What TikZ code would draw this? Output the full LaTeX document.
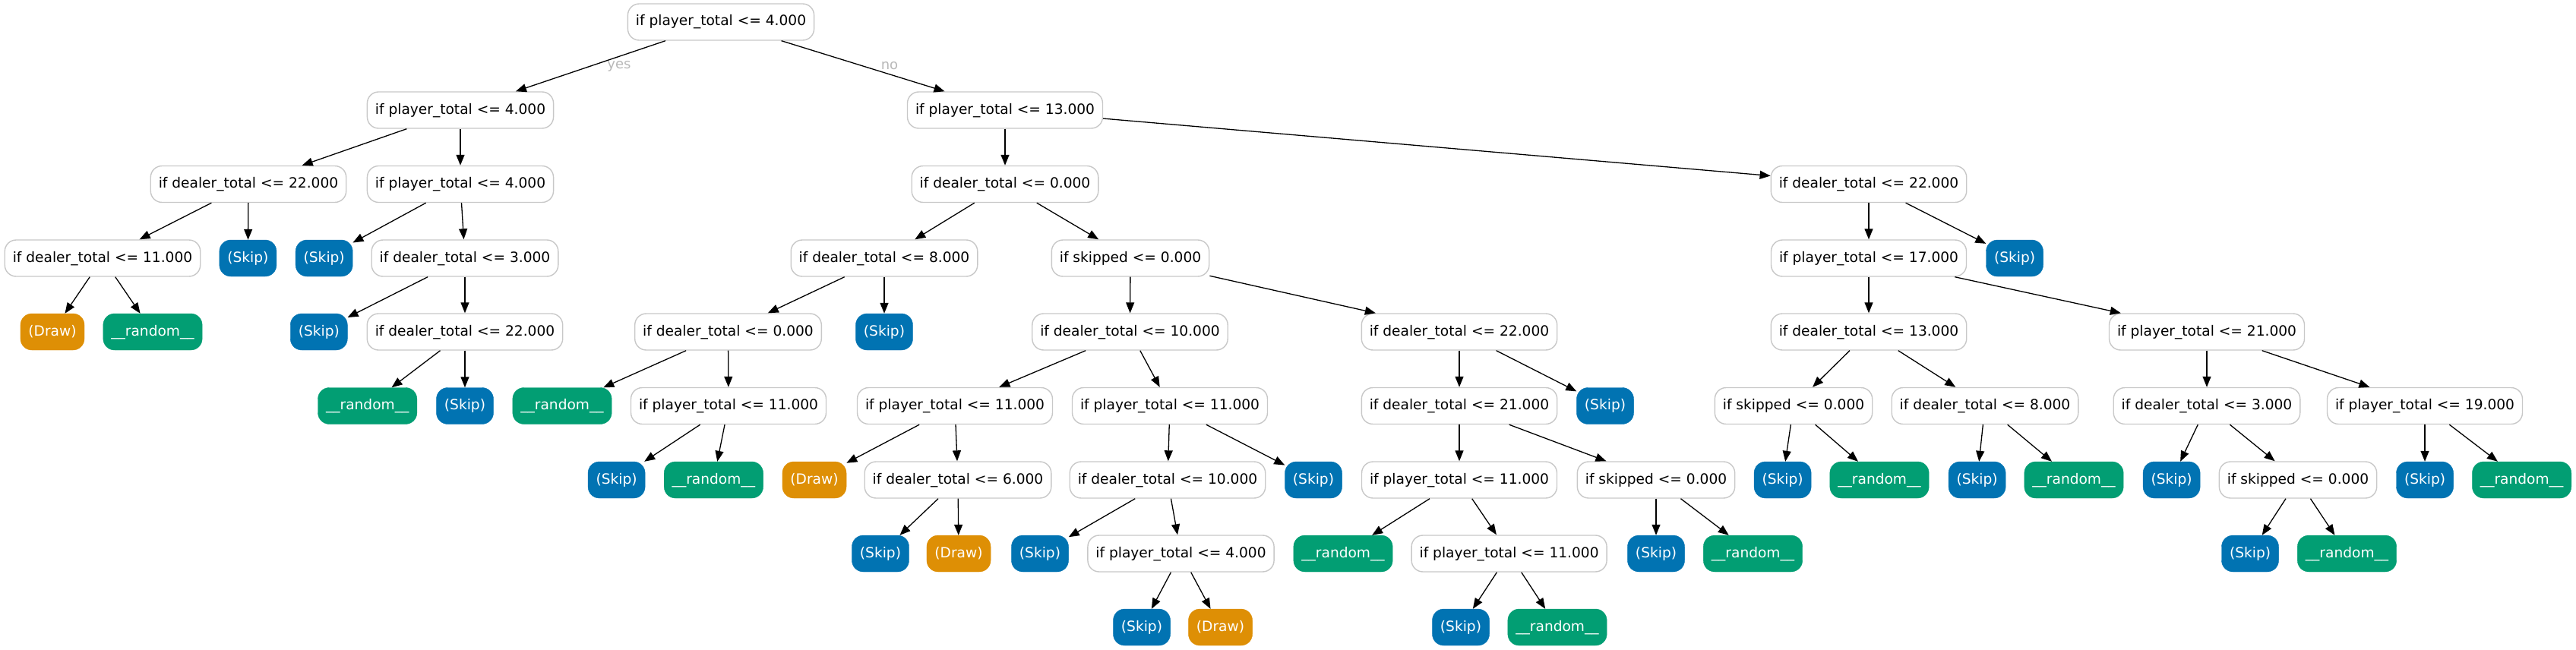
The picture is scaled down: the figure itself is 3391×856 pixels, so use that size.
\documentclass[tikz,border=0pt]{standalone}
\usepackage{fontspec}
\setmainfont{DejaVu Sans}
\usetikzlibrary{arrows.meta}
\definecolor{skipc}{HTML}{0173B2}
\definecolor{drawc}{HTML}{DE8F05}
\definecolor{randc}{HTML}{029E73}
\definecolor{bordc}{HTML}{C8C8C8}
\definecolor{labc}{HTML}{B8B8B8}
\tikzset{
  base/.style={rectangle, rounded corners=15pt, minimum height=48pt, inner xsep=10.5pt,
    text height=13.6pt, text depth=3.6pt, font=\fontsize{18.6}{22}\selectfont},
  dnode/.style={base, draw=bordc, line width=1.4pt, fill=white, text=black},
  skipleaf/.style={base, fill=skipc, draw=skipc, text=white},
  drawleaf/.style={base, fill=drawc, draw=drawc, text=white},
  randleaf/.style={base, fill=randc, draw=randc, text=white},
  arr/.style={line width=1.3pt, -{Triangle[length=14pt,width=11pt]}},
  elab/.style={text=labc, font=\fontsize{18}{22}\selectfont}
}
\newcommand{\rnd}{\_\_random\_\_}
\begin{document}
\begin{tikzpicture}[x=1pt,y=-1pt]
\useasboundingbox (0,0) rectangle (3391,856);
% row 1
\node[dnode] (R) at (949,29) {if player\_total <= 4.000};
% row 2
\node[dnode] (A) at (606,145) {if player\_total <= 4.000};
\node[dnode] (B) at (1323,145) {if player\_total <= 13.000};
% row 3
\node[dnode] (A1) at (327,242.5) {if dealer\_total <= 22.000};
\node[dnode] (A2) at (606,242.5) {if player\_total <= 4.000};
\node[dnode] (B1) at (1323,242.5) {if dealer\_total <= 0.000};
\node[dnode] (B2) at (2460,242.5) {if dealer\_total <= 22.000};
% row 4
\node[dnode] (A11) at (135,340) {if dealer\_total <= 11.000};
\node[skipleaf] (A12) at (326.4,340) {(Skip)};
\node[skipleaf] (A21) at (426.7,340) {(Skip)};
\node[dnode] (A22) at (612,340) {if dealer\_total <= 3.000};
\node[dnode] (B11) at (1164,340) {if dealer\_total <= 8.000};
\node[dnode] (B12) at (1488,340) {if skipped <= 0.000};
\node[dnode] (B21) at (2460,340) {if player\_total <= 17.000};
\node[skipleaf] (B22) at (2652,340) {(Skip)};
% row 5
\node[drawleaf] (A111) at (69,437) {(Draw)};
\node[randleaf] (A112) at (201,437) {\rnd};
\node[skipleaf] (A221) at (419.8,437) {(Skip)};
\node[dnode] (A222) at (612,437) {if dealer\_total <= 22.000};
\node[dnode] (B111) at (958.5,437) {if dealer\_total <= 0.000};
\node[skipleaf] (B112) at (1164,437) {(Skip)};
\node[dnode] (B121) at (1487.5,437) {if dealer\_total <= 10.000};
\node[dnode] (B122) at (1921,437) {if dealer\_total <= 22.000};
\node[dnode] (B211) at (2460,437) {if dealer\_total <= 13.000};
\node[dnode] (B212) at (2905,437) {if player\_total <= 21.000};
% row 6
\node[randleaf] (A2221) at (483.7,534.5) {\rnd};
\node[skipleaf] (A2222) at (612,534.5) {(Skip)};
\node[randleaf] (B1111) at (740,534.5) {\rnd};
\node[dnode] (B1112) at (959,534.5) {if player\_total <= 11.000};
\node[dnode] (B1211) at (1257,534.5) {if player\_total <= 11.000};
\node[dnode] (B1212) at (1540,534.5) {if player\_total <= 11.000};
\node[dnode] (B1221) at (1921,534.5) {if dealer\_total <= 21.000};
\node[skipleaf] (B1222) at (2113,534.5) {(Skip)};
\node[dnode] (B2111) at (2361,534.5) {if skipped <= 0.000};
\node[dnode] (B2112) at (2613,534.5) {if dealer\_total <= 8.000};
\node[dnode] (B2121) at (2905,534.5) {if dealer\_total <= 3.000};
\node[dnode] (B2122) at (3192,534.5) {if player\_total <= 19.000};
% row 7
\node[skipleaf] (B11121) at (811.6,632) {(Skip)};
\node[randleaf] (B11122) at (939.4,632) {\rnd};
\node[drawleaf] (B12111) at (1072,632) {(Draw)};
\node[dnode] (B12112) at (1261,632) {if dealer\_total <= 6.000};
\node[dnode] (B12121) at (1537,632) {if dealer\_total <= 10.000};
\node[skipleaf] (B12122) at (1729,632) {(Skip)};
\node[dnode] (B12211) at (1921,632) {if player\_total <= 11.000};
\node[dnode] (B12212) at (2180,632) {if skipped <= 0.000};
\node[skipleaf] (B21111) at (2346.6,632) {(Skip)};
\node[randleaf] (B21112) at (2474,632) {\rnd};
\node[skipleaf] (B21121) at (2602.6,632) {(Skip)};
\node[randleaf] (B21122) at (2730,632) {\rnd};
\node[skipleaf] (B21211) at (2858.6,632) {(Skip)};
\node[dnode] (B21212) at (3025,632) {if skipped <= 0.000};
\node[skipleaf] (B21221) at (3192,632) {(Skip)};
\node[randleaf] (B21222) at (3319.6,632) {\rnd};
% row 8
\node[skipleaf] (B121121) at (1159,729) {(Skip)};
\node[drawleaf] (B121122) at (1262,729) {(Draw)};
\node[skipleaf] (B121211) at (1369,729) {(Skip)};
\node[dnode] (B121212) at (1554.5,729) {if player\_total <= 4.000};
\node[randleaf] (B122111) at (1768,729) {\rnd};
\node[dnode] (B122112) at (1986.6,729) {if player\_total <= 11.000};
\node[skipleaf] (B122121) at (2180,729) {(Skip)};
\node[randleaf] (B122122) at (2307.5,729) {\rnd};
\node[skipleaf] (B212121) at (2962,729) {(Skip)};
\node[randleaf] (B212122) at (3089.5,729) {\rnd};
% row 9
\node[skipleaf] (B1212121) at (1503,826) {(Skip)};
\node[drawleaf] (B1212122) at (1606.5,826) {(Draw)};
\node[skipleaf] (B1221121) at (1923,826) {(Skip)};
\node[randleaf] (B1221122) at (2050,826) {\rnd};
% edges
\draw[arr] (R) -- (A);
\draw[arr] (R) -- (B);
\node[elab] (yeslab) at (815,87) {yes};
\node[elab] (nolab) at (1171,87) {no};
\foreach \p/\c in {A/A1,A/A2,A1/A11,A1/A12,A11/A111,A11/A112,A2/A21,A2/A22,
  A22/A221,A22/A222,A222/A2221,A222/A2222,
  B/B1,B/B2,B1/B11,B1/B12,B11/B111,B11/B112,B111/B1111,B111/B1112,
  B1112/B11121,B1112/B11122,B12/B121,B12/B122,B121/B1211,B121/B1212,
  B1211/B12111,B1211/B12112,B12112/B121121,B12112/B121122,
  B1212/B12121,B1212/B12122,B12121/B121211,B12121/B121212,
  B121212/B1212121,B121212/B1212122,B122/B1221,B122/B1222,
  B1221/B12211,B1221/B12212,B12211/B122111,B12211/B122112,
  B122112/B1221121,B122112/B1221122,B12212/B122121,B12212/B122122,
  B2/B21,B2/B22,B21/B211,B21/B212,B211/B2111,B211/B2112,
  B2111/B21111,B2111/B21112,B2112/B21121,B2112/B21122,
  B212/B2121,B212/B2122,B2121/B21211,B2121/B21212,
  B21212/B212121,B21212/B212122,B2122/B21221,B2122/B21222}
  \draw[arr] (\p) -- (\c);
\end{tikzpicture}
\end{document}
